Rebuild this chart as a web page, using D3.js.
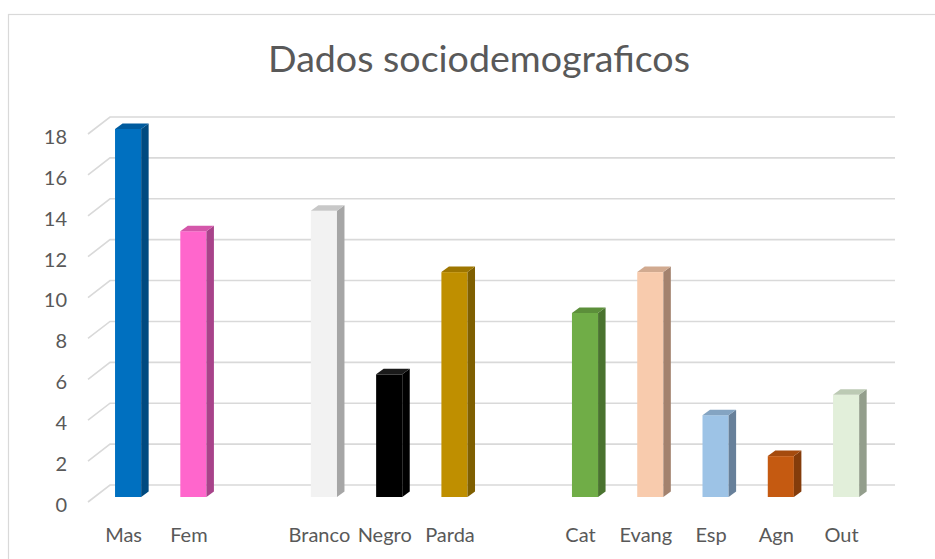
<!DOCTYPE html>
<html>
<head>
<meta charset="utf-8">
<script src="https://cdn.jsdelivr.net/npm/d3@7"></script>
<style>
  html, body { margin: 0; padding: 0; background: #ffffff; }
  svg { display: block; }
  text { font-family: Lato, "Open Sans", sans-serif; fill: #595959; }
</style>
</head>
<body>
<svg id="chart" width="935" height="559"></svg>
<script>
// ---- data ----
const categories = ["Mas", "Fem", "", "Branco", "Negro", "Parda", "", "Cat", "Evang", "Esp", "Agn", "Out"];
const values     = [18, 13, null, 14, 6, 11, null, 9, 11, 4, 2, 5];
const frontColors = ["#0070C0", "#FF66CC", null, "#F2F2F2", "#000000", "#BF8F00", null, "#70AD47", "#F8CBAD", "#9DC3E6", "#C55A11", "#E2EFDA"];
const sideColors  = ["#004a80", "#a8438a", null, "#a6a6a6", "#000000", "#7f5f00", null, "#4a732f", "#a3826e", "#67809a", "#843c0b", "#939e8c"];
const topColors   = ["#005b9e", "#d457aa", null, "#c8c8c8", "#1a1a1a", "#9e7600", null, "#5c8f3a", "#d1aa90", "#84a4c2", "#a54b0e", "#bccab4"];
const tickValues = [0, 2, 4, 6, 8, 10, 12, 14, 16, 18];
const title = "Dados sociodemograficos";

// ---- layout ----
const svg = d3.select("#chart");
const keys = categories.map((c, i) => i);

// chart border (left + top visible, extends past the window)
svg.append("rect").attr("x", 8.5).attr("y", 14.5).attr("width", 1000).attr("height", 1000)
  .attr("fill", "none").attr("stroke", "#d9d9d9").attr("stroke-width", 1.2);

// scales
const x = d3.scaleBand().domain(keys).range([82.4, 891.8]).paddingInner(0.6).paddingOuter(0.5);
const yBack = d3.scaleLinear().domain([0, 18]).range([485, 117]);   // back wall
const floorDx = -22, floorDy = 17;    // front edge offset of the floor
const barDy = 12;                     // bar front face offset from back wall
const depthDx = 7.5, depthDy = -5.5;  // bar depth
const wallRight = 895;

// gridlines: diagonal on side + horizontal on back wall
const grid = svg.append("g");
tickValues.forEach(v => {
  const yb = yBack(v);
  grid.append("path")
    .attr("d", `M${110 + floorDx},${yb + floorDy} L110,${yb} L${wallRight},${yb}`)
    .attr("fill", "none").attr("stroke", "#d9d9d9").attr("stroke-width", 1.6);
});

// y tick labels via axis on the front-edge scale
const yFront = d3.scaleLinear().domain([0, 18]).range([485 + floorDy, 117 + floorDy]);
const yAxis = svg.append("g").attr("transform", "translate(67,3)")
  .call(d3.axisLeft(yFront).tickValues(tickValues).tickSize(0).tickPadding(0));
yAxis.select(".domain").remove();
yAxis.selectAll("text").style("font-size", "20px").style("fill", "#595959")
  .style("font-family", "Lato, 'Open Sans', sans-serif");

// bars
const data = keys.filter(i => values[i] != null).map(i => ({i, v: values[i]}));
const bars = svg.append("g").selectAll("g").data(data).join("g");
bars.each(function(d) {
  const g = d3.select(this);
  const x0 = x(d.i), w = x.bandwidth();
  const yB = yBack(0) + barDy, yT = yBack(d.v) + barDy;
  g.append("rect").attr("x", x0).attr("y", yT).attr("width", w).attr("height", yB - yT)
    .attr("fill", frontColors[d.i]);
  g.append("polygon")
    .attr("points", [[x0 + w, yT], [x0 + w + depthDx, yT + depthDy], [x0 + w + depthDx, yB + depthDy], [x0 + w, yB]].map(p => p.join(",")).join(" "))
    .attr("fill", sideColors[d.i]);
  g.append("polygon")
    .attr("points", [[x0, yT], [x0 + depthDx, yT + depthDy], [x0 + w + depthDx, yT + depthDy], [x0 + w, yT]].map(p => p.join(",")).join(" "))
    .attr("fill", topColors[d.i]);
});

// category labels via bottom axis
const xAxis = svg.append("g").attr("transform", "translate(-4.5,528)")
  .call(d3.axisBottom(x).tickFormat(i => categories[i]).tickSize(0).tickPadding(0));
xAxis.select(".domain").remove();
xAxis.selectAll("text").style("font-size", "20px").style("fill", "#595959")
  .style("font-family", "Lato, 'Open Sans', sans-serif");

// title
const t = svg.append("text").attr("x", 479).attr("y", 72).attr("text-anchor", "middle")
  .style("font-size", "40px").style("fill", "#595959").text(title);
const len = t.node().getComputedTextLength();
t.style("font-size", (40 * 422 / len).toFixed(2) + "px");
</script>
</body>
</html>
